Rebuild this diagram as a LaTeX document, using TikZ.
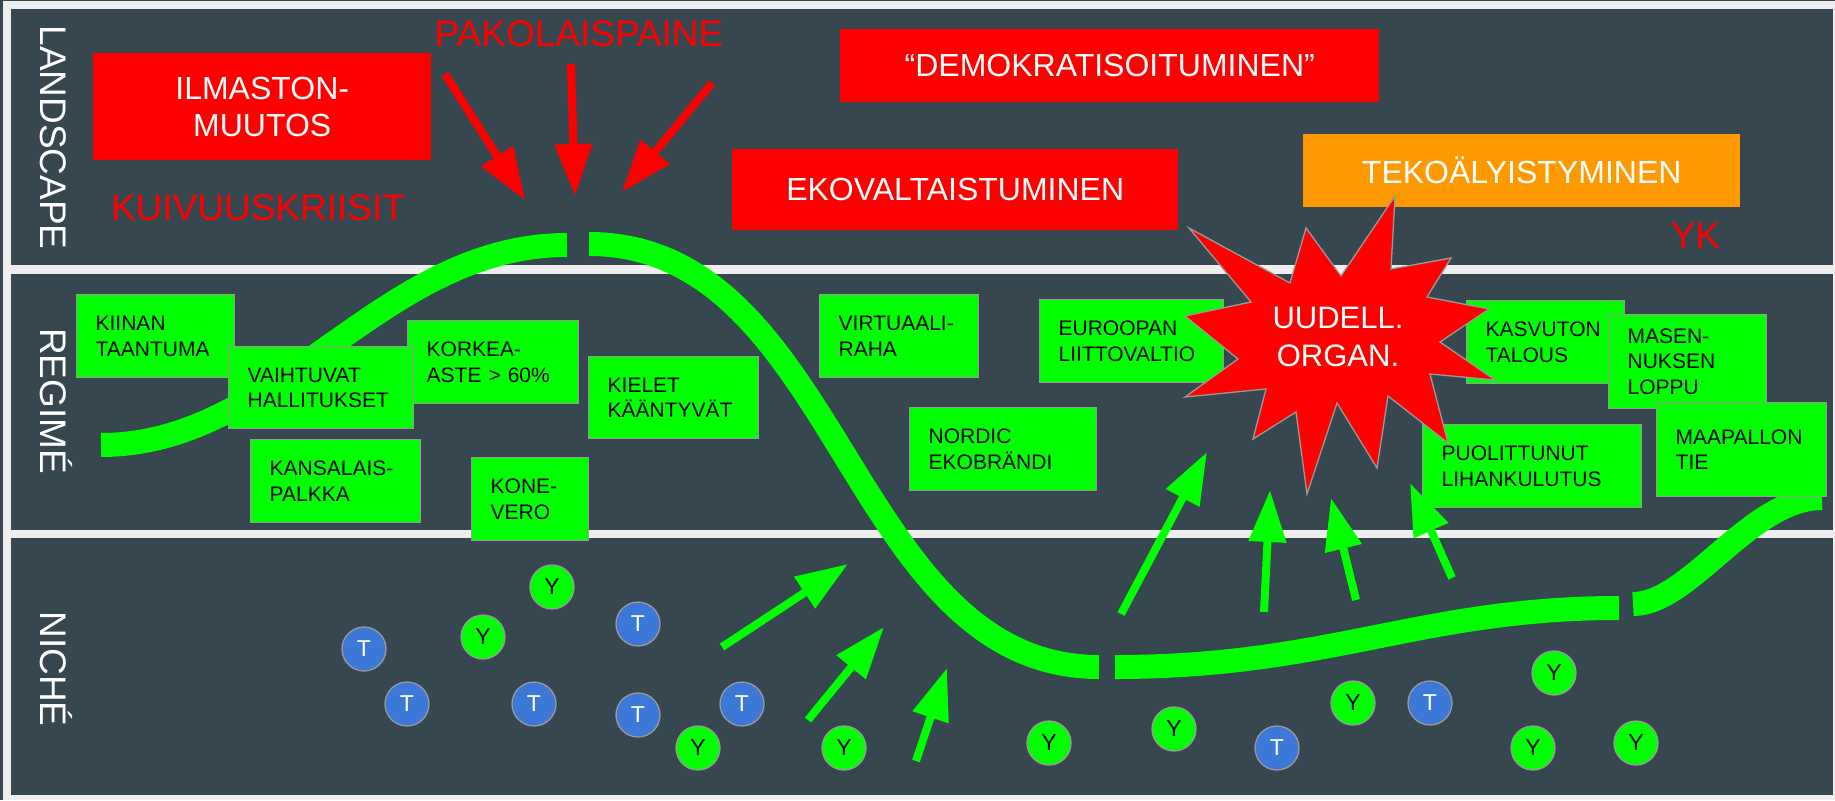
\documentclass[tikz,border=0pt]{standalone}
\usepackage{fontspec}
\setmainfont{Liberation Sans}
\usetikzlibrary{arrows.meta}
\definecolor{panel}{HTML}{37474F}
\definecolor{lightband}{HTML}{EEEEEE}
\definecolor{lgreen}{HTML}{00FF00}
\definecolor{boxline}{HTML}{999999}
\definecolor{orangebox}{HTML}{FF9900}
\definecolor{tblue}{HTML}{3C78D8}
\begin{document}
\begin{tikzpicture}[x={(1pt,0pt)}, y={(0pt,-1pt)},
  gbox/.style={draw=boxline, line width=1.3pt, fill=lgreen, anchor=north west, inner xsep=19pt, inner ysep=0pt, align=left, font=\fontsize{21}{25.5}\selectfont, text=black},
  rbox/.style={fill=red, anchor=north west, inner sep=0pt, align=center, text=white, font=\fontsize{32}{37}\selectfont},
  rlabel/.style={text=red, font=\fontsize{37}{44}\selectfont, inner sep=0pt, anchor=base},
  side/.style={text=white, font=\fontsize{37}{44}\selectfont, inner sep=0pt, anchor=base, rotate=-90},
  curve/.style={draw=lgreen, line width=24pt},
  rarrow/.style={draw=red, line width=8pt, -{Triangle[length=52pt,width=36pt]}},
  garrow/.style={draw=lgreen, line width=8pt, -{Triangle[length=52pt,width=36pt]}},
  ycirc/.style={circle, minimum size=44pt, inner sep=0pt, fill=lgreen, draw=boxline, line width=1.3pt, text=black, font=\fontsize{23}{23}\selectfont},
  tcirc/.style={circle, minimum size=44pt, inner sep=0pt, fill=tblue, draw=boxline, line width=1.3pt, text=white, font=\fontsize{23}{23}\selectfont}
]
\useasboundingbox (0,0) rectangle (1835,800);
% background and panels
\fill[lightband] (0,0) rectangle (1835,800);
\fill[panel] (0,0) rectangle (3,800);
\fill[panel] (0,0) rectangle (1835,1.2);
\fill[panel] (11,9.5) rectangle (1833,265);
\fill[panel] (11,274) rectangle (1833,530);
\fill[panel] (11,538) rectangle (1833,795);

% side labels
\node[side] (landscape) at (40,137.5) {LANDSCAPE};
\node[side] (regime) at (40,401) {REGIMÉ};
\node[side] (niche) at (40,669) {NICHÉ};

% landscape boxes
\node[rbox, minimum width=338pt, minimum height=107pt] (ilmaston) at (93,53) {ILMASTON-\\MUUTOS};
\node[rbox, minimum width=539pt, minimum height=73pt] (demokrat) at (840,29) {“DEMOKRATISOITUMINEN”};
\node[rbox, minimum width=446pt, minimum height=81pt] (ekoval) at (732,149) {EKOVALTAISTUMINEN};
\node[rbox, fill=orangebox, minimum width=437pt, minimum height=73pt] (tekoaly) at (1303,134) {TEKOÄLYISTYMINEN};

\node[rlabel] (pakolais) at (579,47) {PAKOLAISPAINE};
\node[rlabel] (kuivuus) at (258,220) {KUIVUUSKRIISIT};
\node[rlabel] (yk) at (1695.5,248) {YK};

% green curve
\coordinate (ca0) at (101,445);
\coordinate (ca1) at (567,245);
\coordinate (cb0) at (589,244);
\coordinate (cb1) at (1099,667);
\coordinate (cc0) at (1115,667);
\coordinate (cc1) at (1619,608);
\coordinate (cd0) at (1633,604);
\coordinate (cd1) at (1822,498);
\draw[curve] (ca0) .. controls (280,445) and (380,245) .. (ca1);
\draw[curve] (cb0) .. controls (840,244) and (850,667) .. (cb1);
\draw[curve] (cc0) .. controls (1330,667) and (1420,608) .. (cc1);
\draw[curve] (cd0) .. controls (1690,604) and (1750,498) .. (cd1);

% regime boxes
\node[gbox, text width=120pt, minimum height=83pt] (kiinan) at (76,294) {KIINAN\\TAANTUMA};
\node[gbox, text width=133pt, minimum height=83pt] (korkea) at (407,320) {KORKEA-\\ASTE > 60\%};
\node[gbox, text width=147pt, minimum height=82pt] (vaihtuvat) at (228,346) {VAIHTUVAT\\HALLITUKSET};
\node[gbox, text width=132pt, minimum height=83pt] (kansalais) at (250,439) {KANSALAIS-\\PALKKA};
\node[gbox, text width=79pt, minimum height=83pt] (kone) at (471,457) {KONE-\\VERO};
\node[gbox, text width=132pt, minimum height=82pt] (kielet) at (588,356) {KIELET\\KÄÄNTYVÄT};
\node[gbox, text width=121pt, minimum height=83pt] (virtuaali) at (819,294) {VIRTUAALI-\\RAHA};
\node[gbox, text width=146pt, minimum height=83pt] (euroopan) at (1039,299) {EUROOPAN\\LIITTOVALTIO};
\node[gbox, text width=149pt, minimum height=83pt] (nordic) at (909,407) {NORDIC\\EKOBRÄNDI};
\node[gbox, text width=120pt, minimum height=83pt] (kasvuton) at (1466,300) {KASVUTON\\TALOUS};
\node[gbox, text width=120pt, minimum height=94pt] (masen) at (1608,314) {MASEN-\\NUKSEN\\LOPPU};
\node[gbox, text width=132pt, minimum height=94pt] (maapallon) at (1656,402) {MAAPALLON\\TIE};
\node[gbox, text width=181pt, minimum height=83pt] (puolittunut) at (1422,424) {PUOLITTUNUT\\LIHANKULUTUS};

% starburst
\fill[red, draw=boxline, line width=1.3pt, line join=miter]
  (1395,196) -- (1391,269) -- (1451,258) -- (1427,297) -- (1489,309) -- (1440,342)
  -- (1495,380) -- (1430,374) -- (1448,443) -- (1388,396) -- (1377,468) -- (1337,403)
  -- (1307,494) -- (1296,412) -- (1253,439) -- (1266,389) -- (1185,397) -- (1238,359)
  -- (1185,316) -- (1251,302) -- (1189,228) -- (1290,283) -- (1306,228) -- (1341,276) -- cycle;
\node[text=white, align=center, inner sep=0pt, font=\fontsize{31}{38}\selectfont] (uudell) at (1338,337) {UUDELL.\\ORGAN.};

% red arrows
\coordinate (ra1s) at (445,74);   \coordinate (ra1e) at (525,200);
\coordinate (ra2s) at (571,64);   \coordinate (ra2e) at (575,196);
\coordinate (ra3s) at (712,83);   \coordinate (ra3e) at (622,192);
\draw[rarrow] (ra1s) -- (ra1e);
\draw[rarrow] (ra2s) -- (ra2e);
\draw[rarrow] (ra3s) -- (ra3e);

% green arrows
\coordinate (ga1s) at (722,647);  \coordinate (ga1e) at (848,564);
\coordinate (ga2s) at (808,720);  \coordinate (ga2e) at (884,627);
\coordinate (ga3s) at (916,761);  \coordinate (ga3e) at (947,668);
\coordinate (ga4s) at (1121,614); \coordinate (ga4e) at (1207,452);
\coordinate (ga5s) at (1264,612); \coordinate (ga5e) at (1270,490);
\coordinate (ga6s) at (1356,600); \coordinate (ga6e) at (1331,498);
\coordinate (ga7s) at (1452,578); \coordinate (ga7e) at (1410,483);
\foreach \i in {1,...,7} {\draw[garrow] (ga\i s) -- (ga\i e);}

% niche circles
\node[ycirc] (y1) at (552,587) {Y};
\node[ycirc] (y2) at (483,637) {Y};
\node[ycirc] (y3) at (698,748) {Y};
\node[ycirc] (y4) at (844,748) {Y};
\node[ycirc] (y5) at (1049,743) {Y};
\node[ycirc] (y6) at (1174,729) {Y};
\node[ycirc] (y7) at (1353,703) {Y};
\node[ycirc] (y8) at (1554,673) {Y};
\node[ycirc] (y9) at (1533,748) {Y};
\node[ycirc] (y10) at (1636,743) {Y};
\node[tcirc] (t1) at (638,624) {T};
\node[tcirc] (t2) at (364,649) {T};
\node[tcirc] (t3) at (407,704) {T};
\node[tcirc] (t4) at (534,704) {T};
\node[tcirc] (t5) at (638,715) {T};
\node[tcirc] (t6) at (742,704) {T};
\node[tcirc] (t7) at (1277,748) {T};
\node[tcirc] (t8) at (1430,703) {T};
\end{tikzpicture}
\end{document}
